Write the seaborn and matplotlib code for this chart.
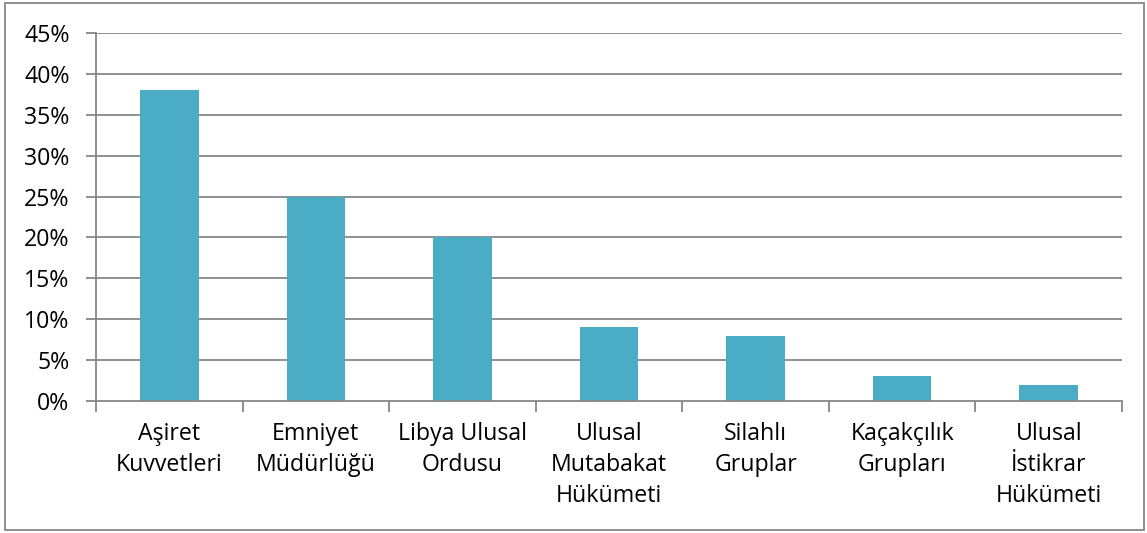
import numpy as np
import pandas as pd
import matplotlib.pyplot as plt
import seaborn as sns
from matplotlib.patches import Rectangle
from matplotlib.ticker import FixedLocator, PercentFormatter

# ---------- data ----------
categories = ["Aşiret\nKuvvetleri", "Emniyet\nMüdürlüğü", "Libya Ulusal\nOrdusu",
              "Ulusal\nMutabakat\nHükümeti", "Silahlı\nGruplar", "Kaçakçılık\nGrupları",
              "Ulusal\nİstikrar\nHükümeti"]
shares = [38, 25, 20, 9, 8, 3, 2]
y_ticks = [0, 5, 10, 15, 20, 25, 30, 35, 40, 45]

df = pd.DataFrame({"group": categories, "share": shares})

sns.set_style("white")
plt.rcParams["font.family"] = ["Open Sans", "DejaVu Sans"]

grid_col = "#878787"
bar_col = "#4BACC6"

fig = plt.figure(figsize=(11.47, 5.33), dpi=100)
ax = fig.add_axes([0.0837, 0.2477, 0.8945, 0.6905])

ax.set_axisbelow(True)
for t in y_ticks[1:]:
    ax.axhline(t, color=grid_col, lw=1.3, zorder=0)

sns.barplot(data=df, x="group", y="share", color=bar_col, width=0.4,
            saturation=1, linewidth=0, ax=ax, zorder=2)

n = len(categories)
ax.set_xlim(-0.5, n - 0.5)
ax.set_ylim(0, 45)
ax.set_yticks(y_ticks)
ax.yaxis.set_major_formatter(PercentFormatter(decimals=0))
ax.set_xlabel("")
ax.set_ylabel("")

for s in ["top", "right"]:
    ax.spines[s].set_visible(False)
for s in ["left", "bottom"]:
    ax.spines[s].set_color(grid_col)
    ax.spines[s].set_linewidth(1.3)

ax.tick_params(axis="y", left=True, length=7, width=1.3, color=grid_col,
               labelsize=16.7, pad=12, labelcolor="black")
ax.tick_params(axis="x", which="major", bottom=True, length=0, labelsize=16.7,
               pad=15, labelcolor="black")
ax.xaxis.set_minor_locator(FixedLocator(np.arange(-0.5, n, 1.0)))
ax.tick_params(axis="x", which="minor", bottom=True, length=8, width=1.3,
               color=grid_col)
for lbl in ax.get_xticklabels():
    lbl.set_linespacing(1.4)
    lbl.set_ha("center")
    lbl.set_va("top")

# outer frame like the chart area border
fig.patches.append(Rectangle((0.004, 0.006), 0.993, 0.988, transform=fig.transFigure,
                             fill=False, edgecolor=grid_col, lw=1.3))

plt.savefig("out.png", dpi=100)
plt.close()
